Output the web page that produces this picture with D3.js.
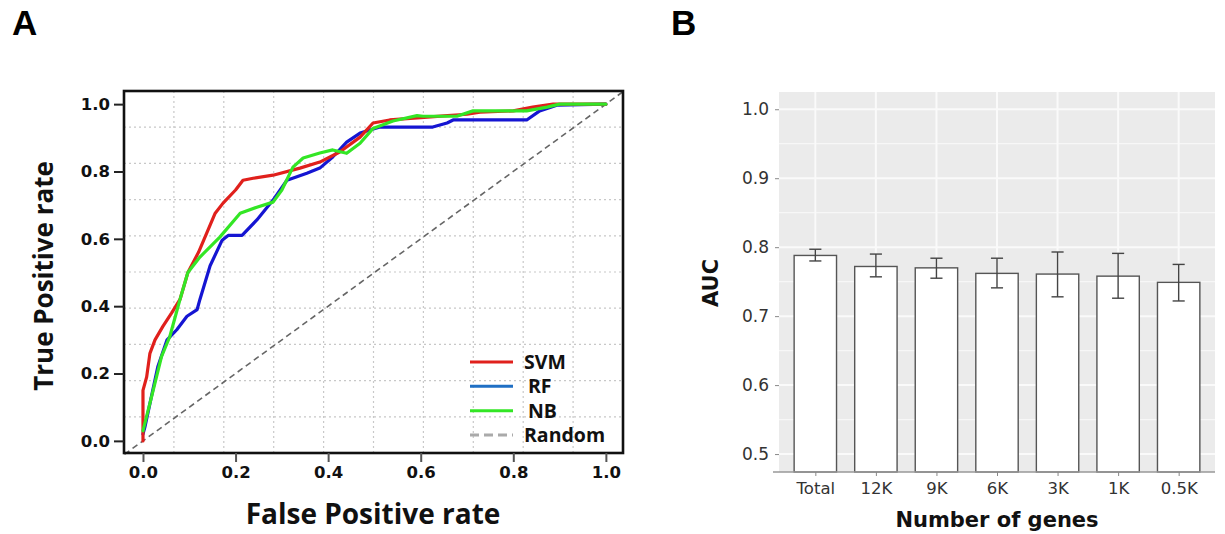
<!DOCTYPE html>
<html>
<head>
<meta charset="utf-8">
<script src="https://cdn.jsdelivr.net/npm/d3@7"></script>
<style>
  body { margin: 0; background: #fff; }
  svg { display: block; }
</style>
</head>
<body>
<div id="chart"></div>
<script>
'use strict';

// ---- panel A: ROC curves (FPR, TPR) ----
const svmFpr = [0, 0, 0.008, 0.015, 0.026, 0.043, 0.062, 0.08, 0.097, 0.12, 0.156, 0.173, 0.2, 0.216, 0.238, 0.281, 0.339, 0.382, 0.425, 0.469, 0.497, 0.533, 0.6, 0.65, 0.7, 0.728, 0.8, 0.842, 0.886, 1.0];
const svmTpr = [0, 0.15, 0.19, 0.26, 0.30, 0.34, 0.38, 0.42, 0.50, 0.56, 0.676, 0.706, 0.745, 0.774, 0.78, 0.789, 0.81, 0.828, 0.858, 0.902, 0.944, 0.953, 0.96, 0.965, 0.97, 0.976, 0.98, 0.991, 1.0, 1.0];

const rfFpr = [0, 0.004, 0.032, 0.052, 0.073, 0.095, 0.117, 0.123, 0.145, 0.171, 0.184, 0.214, 0.246, 0.281, 0.311, 0.354, 0.382, 0.41, 0.44, 0.469, 0.512, 0.555, 0.626, 0.657, 0.67, 0.829, 0.857, 0.894, 1.0];
const rfTpr = [0.02, 0.04, 0.22, 0.30, 0.33, 0.37, 0.39, 0.42, 0.52, 0.596, 0.61, 0.61, 0.656, 0.715, 0.774, 0.795, 0.81, 0.843, 0.887, 0.914, 0.932, 0.932, 0.932, 0.944, 0.953, 0.953, 0.98, 0.997, 1.0];

const nbFpr = [0, 0.022, 0.04, 0.058, 0.08, 0.097, 0.123, 0.166, 0.21, 0.246, 0.281, 0.30, 0.324, 0.346, 0.382, 0.41, 0.44, 0.469, 0.497, 0.54, 0.592, 0.605, 0.678, 0.713, 0.829, 0.873, 0.9, 1.0];
const nbTpr = [0.03, 0.15, 0.25, 0.31, 0.42, 0.50, 0.546, 0.605, 0.676, 0.694, 0.709, 0.745, 0.813, 0.84, 0.855, 0.864, 0.854, 0.884, 0.928, 0.95, 0.966, 0.964, 0.964, 0.98, 0.98, 0.991, 1.0, 1.0];

const rocTicks = [0, 0.2, 0.4, 0.6, 0.8, 1.0];
const legendNames = ["SVM", "RF", "NB", "Random"];

// ---- panel B: mean AUC with error bars ----
const geneSets = ["Total", "12K", "9K", "6K", "3K", "1K", "0.5K"];
const aucMean = [0.788, 0.772, 0.770, 0.762, 0.761, 0.758, 0.749];
const aucLow = [0.780, 0.757, 0.755, 0.741, 0.728, 0.726, 0.722];
const aucHigh = [0.797, 0.790, 0.784, 0.784, 0.793, 0.791, 0.775];
const aucTicks = [0.5, 0.6, 0.7, 0.8, 0.9, 1.0];

const W = 1225, H = 534;
const svg = d3.select("#chart").append("svg")
    .attr("width", W)
    .attr("height", H);

// panel letters
svg.append("text").attr("x", 12).attr("y", 35).text("A")
    .style("font", "bold 35px 'Liberation Sans', Arial, sans-serif");
svg.append("text").attr("x", 671).attr("y", 35).text("B")
    .style("font", "bold 35px 'Liberation Sans', Arial, sans-serif");

// ================= Panel A =================
const x = d3.scaleLinear().domain([-0.041, 1.037]).range([124, 623]);
const y = d3.scaleLinear().domain([-0.036, 1.039]).range([453, 91]);

const gA = svg.append("g").attr("class", "roc");

// dotted background grid, 10 equal cells inside the frame
const cell = d3.scaleLinear().domain([0, 10]);
const gx = cell.copy().range(x.range());
const gy = cell.copy().range(y.range());
d3.range(1, 10).forEach(function(i){
    gA.append("line")
        .attr("x1", gx(i)).attr("x2", gx(i))
        .attr("y1", y.range()[1]).attr("y2", y.range()[0])
        .attr("stroke", "#c8c8c8").attr("stroke-width", 1.2)
        .attr("stroke-dasharray", "2,3");
    gA.append("line")
        .attr("y1", gy(i)).attr("y2", gy(i))
        .attr("x1", x.range()[0]).attr("x2", x.range()[1])
        .attr("stroke", "#c8c8c8").attr("stroke-width", 1.2)
        .attr("stroke-dasharray", "2,3");
});

// random diagonal
const dom = [-0.04, 1.036];
gA.append("line")
    .attr("x1", x(dom[0])).attr("y1", y(dom[0]))
    .attr("x2", x(dom[1])).attr("y2", y(dom[1]))
    .attr("stroke", "#666").attr("stroke-width", 1.6)
    .attr("stroke-dasharray", "6,4");

const line = d3.line()
    .x(function(d){ return x(d[0]); })
    .y(function(d){ return y(d[1]); })
    .curve(d3.curveLinear);

const curves = [
    {name: "RF", fpr: rfFpr, tpr: rfTpr, color: "#1515d2"},
    {name: "SVM", fpr: svmFpr, tpr: svmTpr, color: "#e0201c"},
    {name: "NB", fpr: nbFpr, tpr: nbTpr, color: "#33e625"}
];
for(let c of curves){
    gA.append("path")
        .datum(d3.zip(c.fpr, c.tpr))
        .attr("d", line)
        .attr("fill", "none")
        .attr("stroke", c.color)
        .attr("stroke-width", 3.2)
        .attr("stroke-linejoin", "round")
        .attr("stroke-linecap", "round");
}

// frame
gA.append("rect")
    .attr("x", x.range()[0]).attr("y", y.range()[1])
    .attr("width", x.range()[1] - x.range()[0])
    .attr("height", y.range()[0] - y.range()[1])
    .attr("fill", "none").attr("stroke", "#111").attr("stroke-width", 2.6);

// axes
const axA = gA.append("g").attr("transform", `translate(0,${y.range()[0]})`)
    .call(d3.axisBottom(x).tickValues(rocTicks).tickFormat(d3.format(".1f")).tickSize(9).tickPadding(4));
axA.select(".domain").remove();
axA.selectAll(".tick line").attr("stroke", "#555").attr("stroke-width", 2);
axA.selectAll(".tick text")
    .style("font", "bold 16.5px 'DejaVu Sans', Verdana, sans-serif").attr("fill", "#111");

const ayA = gA.append("g").attr("transform", `translate(${x.range()[0]},0)`)
    .call(d3.axisLeft(y).tickValues(rocTicks).tickFormat(d3.format(".1f")).tickSize(10).tickPadding(4));
ayA.select(".domain").remove();
ayA.selectAll(".tick line").attr("stroke", "#222").attr("stroke-width", 2);
ayA.selectAll(".tick text")
    .style("font", "bold 16.5px 'DejaVu Sans', Verdana, sans-serif").attr("fill", "#111");

gA.append("text")
    .attr("x", 373).attr("y", 524)
    .attr("text-anchor", "middle")
    .style("font", "bold 28px 'Open Sans', sans-serif")
    .attr("fill", "#111")
    .text("False Positive rate");
gA.append("text")
    .attr("transform", "translate(53,276) rotate(-90)")
    .attr("text-anchor", "middle")
    .style("font", "bold 26px 'Open Sans', sans-serif")
    .attr("fill", "#111")
    .text("True Positive rate");

// legend
const legColors = ["#e0201c", "#1f6fc4", "#33e625", "#aaaaaa"];
const legY = d3.scalePoint().domain(legendNames).range([362, 435]);
const legX = [470, 513];
const legTextX = [524, 528, 528, 524];
legendNames.forEach(function(n, i){
    gA.append("line")
        .attr("x1", legX[0]).attr("x2", legX[1])
        .attr("y1", legY(n)).attr("y2", legY(n))
        .attr("stroke", legColors[i]).attr("stroke-width", 3)
        .attr("stroke-dasharray", n === "Random" ? "9,5" : null);
    gA.append("text")
        .attr("x", legTextX[i]).attr("y", legY(n) + 7)
        .style("font", "bold 19.5px 'Open Sans', sans-serif")
        .attr("fill", "#111")
        .text(n);
});

// ================= Panel B =================
const bx = d3.scaleLinear().domain([0.4, 7.6]).range([779, 1215]);
const by = d3.scaleLinear().domain([0.474, 1.025]).range([472, 92]);
const gB = svg.append("g").attr("class", "auc");

gB.append("rect")
    .attr("x", bx.range()[0]).attr("y", by.range()[1])
    .attr("width", bx.range()[1] - bx.range()[0])
    .attr("height", by.range()[0] - by.range()[1])
    .attr("fill", "#ebebeb");

// minor horizontal grid
[0.55, 0.65, 0.75, 0.85, 0.95].forEach(function(v){
    gB.append("line")
        .attr("x1", bx.range()[0]).attr("x2", bx.range()[1])
        .attr("y1", by(v)).attr("y2", by(v))
        .attr("stroke", "#f7f7f7").attr("stroke-width", 1.2);
});
aucTicks.forEach(function(v){
    gB.append("line")
        .attr("x1", bx.range()[0]).attr("x2", bx.range()[1])
        .attr("y1", by(v)).attr("y2", by(v))
        .attr("stroke", "#fafafa").attr("stroke-width", 2);
});
geneSets.forEach(function(g, i){
    gB.append("line")
        .attr("x1", bx(i + 1)).attr("x2", bx(i + 1))
        .attr("y1", by.range()[0]).attr("y2", by.range()[1])
        .attr("stroke", "#fafafa").attr("stroke-width", 2);
});

const barW = bx(1.35) - bx(0.65);
gB.selectAll("rect.bar")
    .data(geneSets)
    .join("rect")
    .attr("class", "bar")
    .attr("x", function(d, i){ return bx(i + 1) - barW / 2; })
    .attr("y", function(d, i){ return by(aucMean[i]); })
    .attr("width", barW)
    .attr("height", function(d, i){ return by.range()[0] - by(aucMean[i]); })
    .attr("fill", "#fff")
    .attr("stroke", "#555")
    .attr("stroke-width", 1.4);

const capW = bx(1.1) - bx(0.9);
geneSets.forEach(function(g, i){
    const cx = bx(i + 1);
    const eb = gB.append("g").attr("stroke", "#444").attr("stroke-width", 1.4);
    eb.append("line").attr("x1", cx).attr("x2", cx).attr("y1", by(aucLow[i])).attr("y2", by(aucHigh[i]));
    eb.append("line").attr("x1", cx - capW / 2).attr("x2", cx + capW / 2).attr("y1", by(aucLow[i])).attr("y2", by(aucLow[i]));
    eb.append("line").attr("x1", cx - capW / 2).attr("x2", cx + capW / 2).attr("y1", by(aucHigh[i])).attr("y2", by(aucHigh[i]));
});

// x axis line
gB.append("line")
    .attr("x1", bx.range()[0] - 6).attr("x2", bx.range()[1])
    .attr("y1", by.range()[0]).attr("y2", by.range()[0])
    .attr("stroke", "#999").attr("stroke-width", 1.5);

const axB = gB.append("g").attr("transform", `translate(0,${by.range()[0]})`)
    .call(d3.axisBottom(bx).tickValues(d3.range(1, 8)).tickFormat(function(d){ return geneSets[d - 1]; }).tickSize(4).tickPadding(6));
axB.select(".domain").remove();
axB.selectAll(".tick line").attr("stroke", "#888");
axB.selectAll(".tick text")
    .style("font", "16.5px 'DejaVu Sans', Verdana, sans-serif").attr("fill", "#333");

const ayB = gB.append("g").attr("transform", `translate(${bx.range()[0]},0)`)
    .call(d3.axisLeft(by).tickValues(aucTicks).tickFormat(d3.format(".1f")).tickSize(4).tickPadding(6));
ayB.select(".domain").remove();
ayB.selectAll(".tick line").attr("stroke", "#888");
ayB.selectAll(".tick text")
    .style("font", "17px 'DejaVu Sans', Verdana, sans-serif").attr("fill", "#333");

gB.append("text")
    .attr("x", 997).attr("y", 527)
    .attr("text-anchor", "middle")
    .style("font", "bold 21px 'DejaVu Sans', Verdana, sans-serif")
    .attr("fill", "#111")
    .text("Number of genes");
gB.append("text")
    .attr("transform", "translate(718,283) rotate(-90)")
    .attr("text-anchor", "middle")
    .style("font", "bold 21px 'DejaVu Sans', Verdana, sans-serif")
    .attr("fill", "#111")
    .text("AUC");
</script>
</body>
</html>
